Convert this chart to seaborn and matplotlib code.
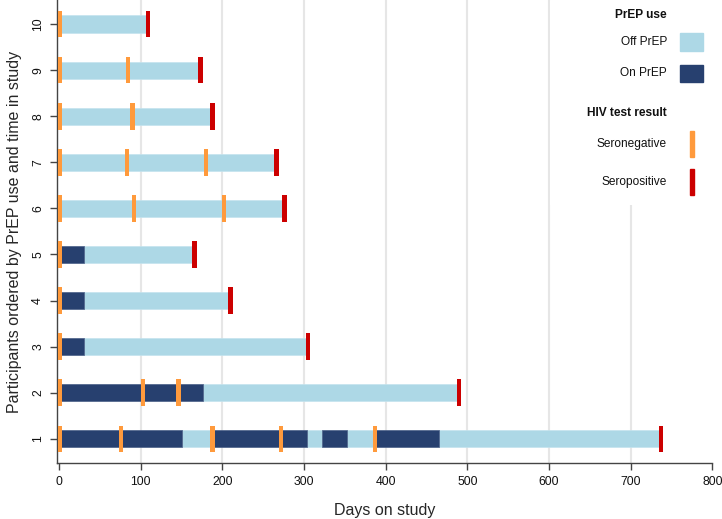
import matplotlib
matplotlib.use("Agg")
import matplotlib.pyplot as plt
import matplotlib.patches as mpatches
import seaborn as sns
import pandas as pd

# PrEP segments, one row per interval
seg_participant = [1, 1, 1, 1, 1, 1, 1, 1,
                   2, 2,
                   3, 3,
                   4, 4,
                   5, 5,
                   6, 7, 8, 9, 10]
seg_start = [0, 150, 188, 303, 322, 352, 387, 465,
             0, 176,
             0, 30,
             0, 30,
             0, 30,
             0, 0, 0, 0, 0]
seg_end = [150, 188, 303, 322, 352, 387, 465, 737,
           176, 490,
           30, 305,
           30, 210,
           30, 166,
           276, 266, 188, 173, 109]
seg_status = ["On PrEP", "Off PrEP", "On PrEP", "Off PrEP", "On PrEP", "Off PrEP", "On PrEP", "Off PrEP",
              "On PrEP", "Off PrEP",
              "On PrEP", "Off PrEP",
              "On PrEP", "Off PrEP",
              "On PrEP", "Off PrEP",
              "Off PrEP", "Off PrEP", "Off PrEP", "Off PrEP", "Off PrEP"]

# HIV tests
test_participant = [1, 1, 1, 1, 1, 1,
                    2, 2, 2, 2,
                    3, 3,
                    4, 4,
                    5, 5,
                    6, 6, 6, 6,
                    7, 7, 7, 7,
                    8, 8, 8,
                    9, 9, 9,
                    10, 10]
test_day = [1, 76, 188, 272, 387, 737,
            1, 103, 146, 490,
            1, 305,
            1, 210,
            1, 166,
            1, 92, 202, 276,
            1, 83, 180, 266,
            1, 90, 188,
            1, 84, 173,
            1, 109]
test_result = ["Seronegative"] * 5 + ["Seropositive"] + \
              ["Seronegative"] * 3 + ["Seropositive"] + \
              ["Seronegative", "Seropositive"] * 3 + \
              ["Seronegative"] * 3 + ["Seropositive"] + \
              ["Seronegative"] * 3 + ["Seropositive"] + \
              ["Seronegative"] * 2 + ["Seropositive"] + \
              ["Seronegative"] * 2 + ["Seropositive"] + \
              ["Seronegative", "Seropositive"]

x_ticks = list(range(0, 801, 100))
y_ticks = list(range(1, 11))

prep_colors = {"Off PrEP": "#ADD8E6", "On PrEP": "#27406F"}
test_colors = {"Seronegative": "#FF9A3C", "Seropositive": "#CC0000"}

segs = pd.DataFrame({"participant": seg_participant, "start": seg_start,
                     "end": seg_end, "status": seg_status})
tests = pd.DataFrame({"participant": test_participant, "day": test_day,
                      "result": test_result})

sns.set_style("white")
plt.rcParams["font.family"] = ["Liberation Sans", "DejaVu Sans"]

W, H = 722, 519
fig = plt.figure(figsize=(W / 100, H / 100), dpi=100)
ax = fig.add_axes([56.7 / W, 1 - 463.3 / H, (712.3 - 56.7) / W, 463.3 / H])

# grid lines
ax.vlines(x_ticks[1:-1], 0.47, 10.52, color="#E6E6E6", lw=1.5, zorder=0)

# PrEP segments
for status, grp in segs.groupby("status"):
    ax.barh(grp["participant"], grp["end"] - grp["start"], left=grp["start"],
            height=0.37, color=prep_colors[status],
            edgecolor="#4A5F88" if status == "On PrEP" else "#C4E3EE",
            linewidth=0.5, zorder=2)

# HIV tests as thin vertical rectangles
bar_marker = [(-1, -6), (1, -6), (1, 6), (-1, 6), (-1, -6)]
sns.scatterplot(data=tests, x="day", y="participant", hue="result",
                palette=test_colors, marker=bar_marker, s=370, linewidth=0,
                legend=False, ax=ax, zorder=3)

ax.set_xlim(-3, 800)
ax.set_ylim(0.47, 10.52)
ax.set_xticks(x_ticks)
ax.set_yticks(y_ticks)
ax.set_yticklabels([str(v) for v in y_ticks], rotation=90, va="center")
ax.tick_params(axis="both", labelsize=8.8, length=5, width=1, color="#444444",
               labelcolor="#111111", direction="out", left=True, bottom=True)
ax.tick_params(axis="x", pad=4)
ax.tick_params(axis="y", pad=4)
for side in ["top", "right"]:
    ax.spines[side].set_visible(False)
for side in ["left", "bottom"]:
    ax.spines[side].set_color("#444444")
    ax.spines[side].set_linewidth(1.0)

ax.set_xlabel("Days on study", fontsize=11.5, labelpad=11)
ax.set_ylabel("Participants ordered by PrEP use and time in study", fontsize=11.5, labelpad=7)

# legend panel
lg = fig.add_axes([550 / W, 1 - 205 / H, 172 / W, 205 / H])
lg.set_xlim(550, 722)
lg.set_ylim(205, 0)
lg.set_facecolor("white")
lg.axis("off")
lg.add_patch(mpatches.Rectangle((550, 0), 172, 205, color="white", zorder=0))
txt = dict(ha="right", va="center", fontsize=8.6, color="#111111")
lg.text(667, 15, "PrEP use", fontweight="bold", **txt)
lg.text(667, 42, "Off PrEP", **txt)
lg.text(667, 73, "On PrEP", **txt)
lg.text(667, 113, "HIV test result", fontweight="bold", **txt)
lg.text(667, 144, "Seronegative", **txt)
lg.text(667, 182, "Seropositive", **txt)
lg.add_patch(mpatches.Rectangle((680, 33), 23, 18, color=prep_colors["Off PrEP"]))
lg.add_patch(mpatches.Rectangle((680, 65), 23, 17, color=prep_colors["On PrEP"]))
lg.add_patch(mpatches.Rectangle((690, 131), 4, 26, color=test_colors["Seronegative"]))
lg.add_patch(mpatches.Rectangle((690, 169), 4, 26, color=test_colors["Seropositive"]))

fig.savefig("out.png", dpi=100)
